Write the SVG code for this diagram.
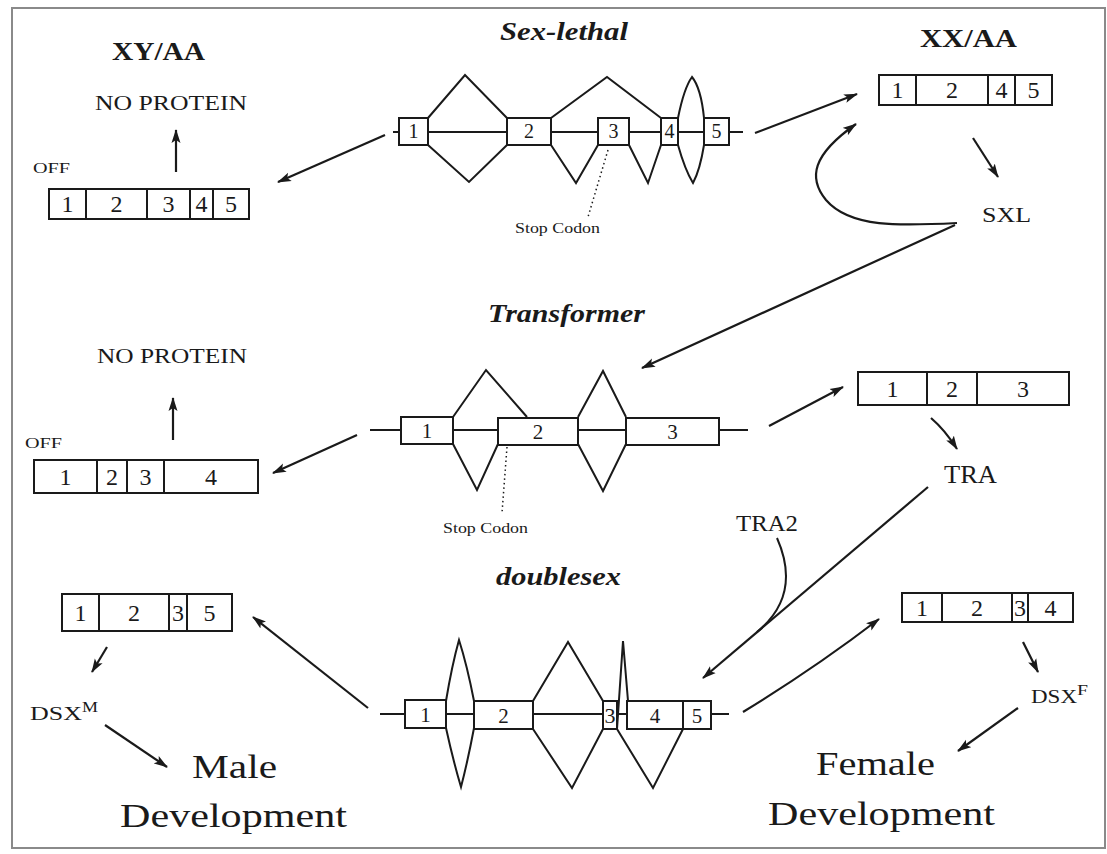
<svg xmlns="http://www.w3.org/2000/svg" width="1107" height="854" viewBox="0 0 1107 854">
<defs>
<marker id="ah" markerUnits="userSpaceOnUse" markerWidth="14" markerHeight="10" refX="13" refY="5" orient="auto"><path d="M0,0.5 L14,5 L0,9.5 L3,5 z" fill="#1a1a1a"/></marker>
<style>
.t{font-family:"Liberation Serif","Times New Roman",serif;fill:#1a1a1a}
.b{font-weight:bold}
.bi{font-weight:bold;font-style:italic}
.ln{stroke:#1a1a1a;stroke-width:2;fill:none}
.ex{fill:#fff;stroke:#1a1a1a;stroke-width:2}
.dv{stroke:#1a1a1a;stroke-width:2}
.dot{stroke:#1a1a1a;stroke-width:1.5;stroke-dasharray:1.5,3;fill:none}
.ar{stroke:#1a1a1a;stroke-width:2.2;fill:none;marker-end:url(#ah)}
.bx{font-size:24px;text-anchor:middle}
.gx{text-anchor:middle}
</style>
</defs>
<rect x="0" y="0" width="1107" height="854" fill="#fff"/>
<rect x="12" y="8" width="1093" height="840" fill="none" stroke="#8a8a8a" stroke-width="2"/>

<g id="labels">
<text class="t b" x="112" y="60" font-size="26" textLength="93" lengthAdjust="spacingAndGlyphs">XY/AA</text>
<text class="t b" x="920" y="47" font-size="26" textLength="97" lengthAdjust="spacingAndGlyphs">XX/AA</text>
<text class="t bi" x="500" y="40" font-size="25" textLength="128" lengthAdjust="spacingAndGlyphs">Sex-lethal</text>
<text class="t bi" x="488" y="322" font-size="25" textLength="157" lengthAdjust="spacingAndGlyphs">Transformer</text>
<text class="t bi" x="496" y="585" font-size="25" textLength="125" lengthAdjust="spacingAndGlyphs">doublesex</text>
</g>

<g id="np-sxl"><text class="t" x="95" y="110" font-size="22" textLength="152" lengthAdjust="spacingAndGlyphs">NO PROTEIN</text></g>
<g id="np-tra"><text class="t" x="97" y="363" font-size="22" textLength="150" lengthAdjust="spacingAndGlyphs">NO PROTEIN</text></g>
<g id="off-sxl"><text class="t" x="33" y="173" font-size="14" textLength="37" lengthAdjust="spacingAndGlyphs">OFF</text></g>
<g id="off-tra"><text class="t" x="25" y="448" font-size="14" textLength="37" lengthAdjust="spacingAndGlyphs">OFF</text></g>
<g id="sxl"><text class="t" x="982" y="222" font-size="20" textLength="49" lengthAdjust="spacingAndGlyphs">SXL</text></g>
<g id="tra"><text class="t" x="944" y="483" font-size="25" textLength="53" lengthAdjust="spacingAndGlyphs">TRA</text></g>
<g id="tra2"><text class="t" x="736" y="531" font-size="24" textLength="62" lengthAdjust="spacingAndGlyphs">TRA2</text></g>
<g id="dsxm"><text class="t" x="30" y="720" font-size="19" textLength="52" lengthAdjust="spacingAndGlyphs">DSX</text><text class="t" x="82" y="712" font-size="14" textLength="16" lengthAdjust="spacingAndGlyphs">M</text></g>
<g id="dsxf"><text class="t" x="1031" y="703" font-size="19" textLength="46" lengthAdjust="spacingAndGlyphs">DSX</text><text class="t" x="1077" y="695" font-size="14" textLength="11" lengthAdjust="spacingAndGlyphs">F</text></g>
<g id="male"><text class="t" x="192" y="778" font-size="34" textLength="85" lengthAdjust="spacingAndGlyphs">Male</text><text class="t" x="120" y="827" font-size="34" textLength="227" lengthAdjust="spacingAndGlyphs">Development</text></g>
<g id="female"><text class="t" x="816" y="775" font-size="34" textLength="119" lengthAdjust="spacingAndGlyphs">Female</text><text class="t" x="768" y="825" font-size="34" textLength="227" lengthAdjust="spacingAndGlyphs">Development</text></g>

<g id="gene-sxl">
<path class="ln" d="M393,132 L743,132"/>
<path class="ln" d="M428,118 L465,75 L507,118 M551,118 L607,77 L661,118 M678,118 Q684,88 692,77 Q701,88 704,118"/>
<path class="ln" d="M428,145 L469,182 L507,145 M551,145 L576,183 L598,145 M629,145 L648,183 L661,145 M678,145 Q685,170 693,183 Q700,170 704,145"/>
<rect class="ex" x="399" y="118" width="29" height="27"/>
<rect class="ex" x="507" y="118" width="44" height="27"/>
<rect class="ex" x="598" y="118" width="31" height="27"/>
<rect class="ex" x="661" y="118" width="17" height="27"/>
<rect class="ex" x="704" y="118" width="25" height="27"/>
<g class="t gx" font-size="20"><text x="413.5" y="138">1</text><text x="529" y="138">2</text><text x="613.5" y="138">3</text><text x="669.5" y="138">4</text><text x="716.5" y="138">5</text></g>
<path class="dot" d="M608,150 L588,217"/>
<text class="t" x="515" y="233" font-size="15" textLength="85" lengthAdjust="spacingAndGlyphs">Stop Codon</text>
</g>

<g id="gene-tra">
<path class="ln" d="M370,430 L748,430"/>
<path class="ln" d="M453,417 L486,370 L527,417 M578,417 L603,371 L626,417"/>
<path class="ln" d="M453,444 L477,490 L498,444 M578,444 L603,491 L626,444"/>
<rect class="ex" x="401" y="417" width="52" height="27"/>
<rect class="ex" x="498" y="418" width="80" height="27"/>
<rect class="ex" x="626" y="418" width="93" height="27"/>
<g class="t gx" font-size="21"><text x="427" y="438">1</text><text x="538" y="439">2</text><text x="672.5" y="439">3</text></g>
<path class="dot" d="M507,447 L502,513"/>
<text class="t" x="443" y="533" font-size="15" textLength="85" lengthAdjust="spacingAndGlyphs">Stop Codon</text>
</g>

<g id="gene-dsx">
<path class="ln" d="M380,714 L729,714"/>
<path class="ln" d="M446,701 Q452,665 459,640 Q467,665 474,701 M533,701 L568,642 L603,701 M617,729 L623,641 L628,701"/>
<path class="ln" d="M446,728 Q453,760 461,787 Q468,760 474,728 M533,729 L572,788 L603,729 M617,729 L653,788 L683,729"/>
<rect class="ex" x="405" y="700" width="41" height="28"/>
<rect class="ex" x="474" y="701" width="59" height="28"/>
<rect class="ex" x="603" y="701" width="14" height="28"/>
<rect class="ex" x="627" y="701" width="56" height="28"/>
<rect class="ex" x="683" y="701" width="28" height="28"/>
<g class="t gx" font-size="21"><text x="425.5" y="722">1</text><text x="503.5" y="723">2</text><text x="610" y="723" textLength="11" lengthAdjust="spacingAndGlyphs">3</text><text x="655" y="723">4</text><text x="697" y="723">5</text></g>
</g>

<g id="box-sxl-m">
<rect class="ex" x="49" y="189" width="200" height="30"/>
<path class="dv" d="M86,189 V219 M147,189 V219 M190,189 V219 M213,189 V219"/>
<g class="t bx"><text x="67.5" y="212">1</text><text x="116.5" y="212">2</text><text x="168.5" y="212">3</text><text x="201.5" y="212">4</text><text x="231" y="212">5</text></g>
</g>
<g id="box-sxl-f">
<rect class="ex" x="879" y="75" width="173" height="30"/>
<path class="dv" d="M916,75 V105 M988,75 V105 M1015,75 V105"/>
<g class="t bx"><text x="897.5" y="98">1</text><text x="952" y="98">2</text><text x="1001.5" y="98">4</text><text x="1033.5" y="98">5</text></g>
</g>
<g id="box-tra-m">
<rect class="ex" x="34" y="460" width="224" height="33"/>
<path class="dv" d="M97,460 V493 M127,460 V493 M164,460 V493"/>
<g class="t bx"><text x="65.5" y="485">1</text><text x="112" y="485">2</text><text x="145.5" y="485">3</text><text x="211" y="485">4</text></g>
</g>
<g id="box-tra-f">
<rect class="ex" x="858" y="372" width="211" height="33"/>
<path class="dv" d="M927,372 V405 M977,372 V405"/>
<g class="t bx"><text x="892.5" y="397">1</text><text x="952" y="397">2</text><text x="1023" y="397">3</text></g>
</g>
<g id="box-dsx-m">
<rect class="ex" x="62" y="594" width="170" height="37"/>
<path class="dv" d="M99,594 V631 M169,594 V631 M187,594 V631"/>
<g class="t bx"><text x="80.5" y="621">1</text><text x="134" y="621">2</text><text x="178" y="621">3</text><text x="209.5" y="621">5</text></g>
</g>
<g id="box-dsx-f">
<rect class="ex" x="902" y="593" width="171" height="29"/>
<path class="dv" d="M942,593 V622 M1012,593 V622 M1028,593 V622"/>
<g class="t bx"><text x="922" y="616">1</text><text x="977" y="616">2</text><text x="1020" y="616">3</text><text x="1050.5" y="616">4</text></g>
</g>

<g id="connectors">
<path class="ar" d="M385,135 L278,182"/>
<path class="ar" d="M755,133 L857,94"/>
<path class="ar" d="M176,172 L176,130"/>
<path class="ar" d="M973,138 L998,177"/>
<path class="ar" d="M957,223 C900,226 850,228 826,200 C808,178 812,155 856,124"/>
<path class="ar" d="M955,225 L642,368"/>
<path class="ar" d="M357,435 L273,473"/>
<path class="ar" d="M173,440 L173,398"/>
<path class="ar" d="M769,426 L843,387"/>
<path class="ar" d="M931,418 Q945,430 957,449"/>
<path class="ar" d="M928,487 L703,678"/>
<path class="ln" d="M777,538 C792,572 790,605 757,632"/>
<path class="ar" d="M368,708 L253,617"/>
<path class="ar" d="M107,647 L92,672"/>
<path class="ar" d="M105,725 L167,767"/>
<path class="ar" d="M743,712 Q815,668 879,619"/>
<path class="ar" d="M1023,642 L1038,672"/>
<path class="ar" d="M1018,708 L958,751"/>
</g>
</svg>
